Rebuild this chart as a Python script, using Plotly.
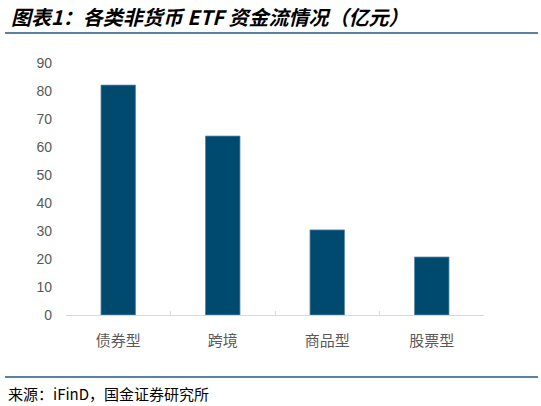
import plotly.graph_objects as go

# data
categories = ['债券型', '跨境', '商品型', '股票型']
flows = [82.1, 63.9, 30.4, 20.7]
y_ticks = [0, 10, 20, 30, 40, 50, 60, 70, 80, 90]

W, H = 541, 406
L, R, T, B = 66, 57, 63, 91
plot_w = W - L - R
plot_h = H - T - B


def px_x(x):
    return (x - L) / plot_w


def px_y(y):
    return (H - B - y) / plot_h


fig = go.Figure(data=go.Bar(x=categories,
                            y=flows,
                            marker_color='#004A70',
                            marker_line=dict(color='#5B86A3', width=0.8)))

fig.update_layout(
    width=W, height=H,
    margin=dict(l=L, r=R, t=T, b=B),
    paper_bgcolor='white',
    plot_bgcolor='white',
    bargap=0.67,
    showlegend=False,
    font=dict(family='Liberation Sans, Arial', color='#595959'),
)

fig.update_xaxes(
    showline=True, linecolor='#D9D9D9', linewidth=1,
    ticks='inside', ticklen=4, tickcolor='#D9D9D9',
    tickson='boundaries',
    ticklabelstandoff=12,
    tickfont=dict(family='Noto Sans CJK SC', size=15, color='#595959'),
    showgrid=False,
)
fig.update_yaxes(
    range=[0, 90],
    tickvals=y_ticks,
    showgrid=False, zeroline=False, showline=False,
    ticklabelstandoff=13,
    tickfont=dict(family='Liberation Sans, Arial', size=14, color='#595959'),
)

line_color = '#1F5A82'
for y in (33, 377):
    fig.add_shape(type='line', xref='paper', yref='paper',
                  x0=px_x(5), x1=px_x(538), y0=px_y(y), y1=px_y(y),
                  line=dict(color=line_color, width=1.5))

fig.add_annotation(text='<b><i>图表1：各类非货币 ETF 资金流情况（亿元）</i></b>',
                   xref='paper', yref='paper', x=px_x(9), y=px_y(16),
                   xanchor='left', yanchor='middle', showarrow=False,
                   font=dict(family='Noto Sans CJK SC', size=20, color='black'))

fig.add_annotation(text='来源：iFinD，国金证券研究所',
                   xref='paper', yref='paper', x=px_x(6), y=px_y(393),
                   xanchor='left', yanchor='middle', showarrow=False,
                   font=dict(family='Noto Sans CJK SC', size=15, color='black'))

# the page body has an 8px default margin; drop it so the figure sits at 0,0
fig.write_html('out.html', config={'displayModeBar': False},
               post_script="document.body.style.margin='0';")
